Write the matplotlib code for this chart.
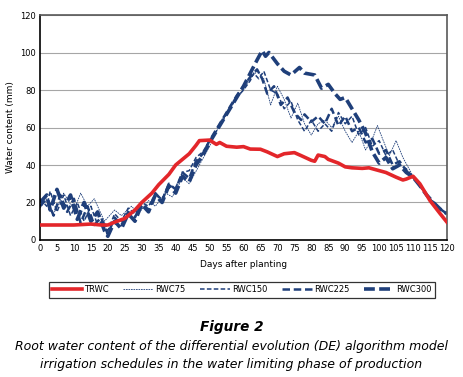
import matplotlib
matplotlib.use("Agg")
import matplotlib.pyplot as plt

# TRWC
trwc_days = [0, 5, 10, 15, 18, 20, 22, 25, 28, 30, 33, 35, 38, 40, 42, 44, 46, 47, 50, 52, 53, 55,
             58, 60, 62, 65, 67, 70, 72, 75, 77, 80, 81, 82, 84, 85, 88, 90, 92, 95, 97, 100, 102,
             105, 107, 108, 110, 112, 115, 118, 120]
trwc_vals = [8, 8, 8, 8.5, 8, 8, 9.5, 11.5, 16, 20, 25, 29.5, 35, 40, 43, 46, 50.5, 53, 53.3, 51, 52, 50,
             49.5, 49.8, 48.5, 48.4, 47, 44.5, 46, 46.6, 45, 42.5, 42, 45.3, 44.5, 43, 41, 39, 38.5, 38.2,
             38.5, 37, 36, 33.5, 32, 32.5, 34, 30, 21, 14, 9.5]

# RWC75
rwc75_days = [0, 2, 4, 7, 10, 12, 14, 16, 19, 22, 24, 27, 29, 32, 34, 37, 39, 42, 44, 47, 50, 52, 54,
              56, 58, 60, 62, 64, 66, 68, 70, 72, 74, 76, 78, 80, 82, 84, 86, 88, 90, 92, 94, 96, 98,
              99.5, 101, 103, 105, 107, 110, 112, 114, 116, 118, 120]
rwc75_vals = [17, 22, 14, 25, 16, 25, 18, 22, 10, 16, 13, 18, 14, 21, 18, 25, 23, 33, 30, 40, 50, 58, 64,
              70, 76, 80, 86, 90, 86, 72, 82, 75, 65, 73, 62, 56, 62, 64, 60, 66, 58, 52, 58, 48, 54,
              61, 54, 45, 53, 44, 34, 29, 24, 20, 16.5, 14]

# RWC150
rwc150_days = [0, 2, 3, 5, 7, 9, 11, 13, 15, 17, 19, 20, 22, 24, 26, 28, 30, 32, 34, 36, 38, 40, 42,
               44, 46, 48, 50, 52, 54, 56, 58, 60, 62, 63, 64.5, 66, 68, 70, 72, 74, 76, 78, 80, 82,
               84, 86, 88, 90, 92, 94, 96, 98, 100, 102, 104, 106, 108, 110, 112, 114, 116, 118, 120]
rwc150_vals = [22, 18, 26, 15, 24, 13, 20, 10, 18, 8, 9, 5, 14, 10, 17, 14, 20, 18, 24, 22, 29, 28, 36,
               37, 44, 47, 53, 58, 64, 70, 76, 80, 85, 89, 86, 90, 80, 78, 70, 74, 64, 58, 64, 58,
               62, 58, 68, 62, 66, 56, 60, 50, 53, 45, 48, 40, 38, 33.5, 29, 24, 20, 16.5, 14]

# RWC225
rwc225_days = [0, 2, 4, 6, 8, 10, 12, 14, 16, 18, 20, 22, 24, 26, 28, 30, 32, 34, 36, 38, 40, 42, 44,
               46, 48, 50, 52, 54, 56, 58, 60, 62, 64, 65.5, 67, 69, 71, 73, 75, 77, 78, 80, 82, 84,
               86, 88, 90, 92, 94, 96, 98, 100, 102, 104, 106, 108, 110, 112, 114, 116, 118, 120]
rwc225_vals = [18, 22, 13, 24, 15, 22, 9, 18, 8, 12, 3, 12, 8, 15, 12, 20, 16, 25, 21, 30, 27, 36, 33,
               42, 46, 53, 59, 65, 71, 77, 82, 87, 91, 86, 78, 82, 72, 76, 68, 64, 67, 63, 66, 62,
               70, 61, 66, 58, 60, 52, 54, 46, 48, 40, 42, 37, 33.5, 29, 24, 20, 16.5, 14]

# RWC300
rwc300_days = [0, 2, 3, 5, 7, 9, 11, 13, 15, 17, 19, 20, 22, 24, 26, 28, 30, 32, 34, 36, 38, 40, 42,
               44, 46, 48, 50, 52, 54, 56, 58, 60, 62, 64, 65.5, 66.5, 67.5, 70, 72, 74, 76.5, 78, 81,
               83, 85, 87, 88.5, 90, 92, 94, 96, 98, 100, 102, 104, 106, 108, 110, 112, 114, 116, 118, 120]
rwc300_vals = [20, 24, 16, 27, 17, 24, 11, 20, 10, 15, 5, 2, 10, 6, 14, 10, 19, 15, 24, 20, 29, 25, 34,
               31, 40, 45, 52, 58, 64, 70, 76, 82, 89, 96, 101, 98, 100, 94, 90, 88, 92, 89, 88,
               81, 83, 78, 75, 76, 70, 64, 57, 47, 41, 44, 38, 40, 36, 33.5, 29, 24, 20, 16.5, 14]

blue = "#1f3f7a"
red = "#e3262a"

fig = plt.figure(figsize=(4.63, 3.77), dpi=100)
ax = fig.add_axes([0.0864, 0.3634, 0.879, 0.5968])

ax.plot(trwc_days, trwc_vals, color=red, lw=2.6, label="TRWC", zorder=3)
ax.plot(rwc75_days, rwc75_vals, color=blue, lw=0.6, dashes=(2, 1), label="RWC75")
ax.plot(rwc150_days, rwc150_vals, color=blue, lw=1.1, dashes=(3, 1.5), label="RWC150")
ax.plot(rwc225_days, rwc225_vals, color=blue, lw=1.8, dashes=(3, 1.5), label="RWC225")
ax.plot(rwc300_days, rwc300_vals, color=blue, lw=2.6, dashes=(3, 1.2), label="RWC300")

ax.set_xlim(0, 120)
ax.set_ylim(0, 120)
ax.set_xticks(range(0, 121, 5))
ax.set_yticks(range(0, 121, 20))
ax.tick_params(labelsize=6, length=0, pad=3)
ax.yaxis.grid(True, color="#a6a6a6", lw=0.8)
ax.set_axisbelow(True)
for s in ["left", "bottom"]:
    ax.spines[s].set_color("black")
    ax.spines[s].set_linewidth(1.2)
for s in ["top", "right"]:
    ax.spines[s].set_color("#595959")
    ax.spines[s].set_linewidth(1.2)

ax.set_xlabel("Days after planting", fontsize=6.5, labelpad=5)
ax.set_ylabel("Water content (mm)", fontsize=6.5, labelpad=4)

leg = fig.legend(loc="center", bbox_to_anchor=(0.522, 0.231), ncol=5, fontsize=6,
                 frameon=True, fancybox=False, handlelength=3.6, columnspacing=1.8,
                 handletextpad=0.2, borderpad=0.4)
leg.get_frame().set_edgecolor("black")
leg.get_frame().set_linewidth(0.9)

fig.text(0.5, 0.132, "Figure 2", ha="center", va="center", fontsize=9.8,
         fontweight="bold", style="italic")
fig.text(0.5, 0.082, "Root water content of the differential evolution (DE) algorithm model",
         ha="center", va="center", fontsize=9, style="italic")
fig.text(0.5, 0.034, "irrigation schedules in the water limiting phase of production",
         ha="center", va="center", fontsize=9, style="italic")

fig.savefig("out.png", dpi=100)
